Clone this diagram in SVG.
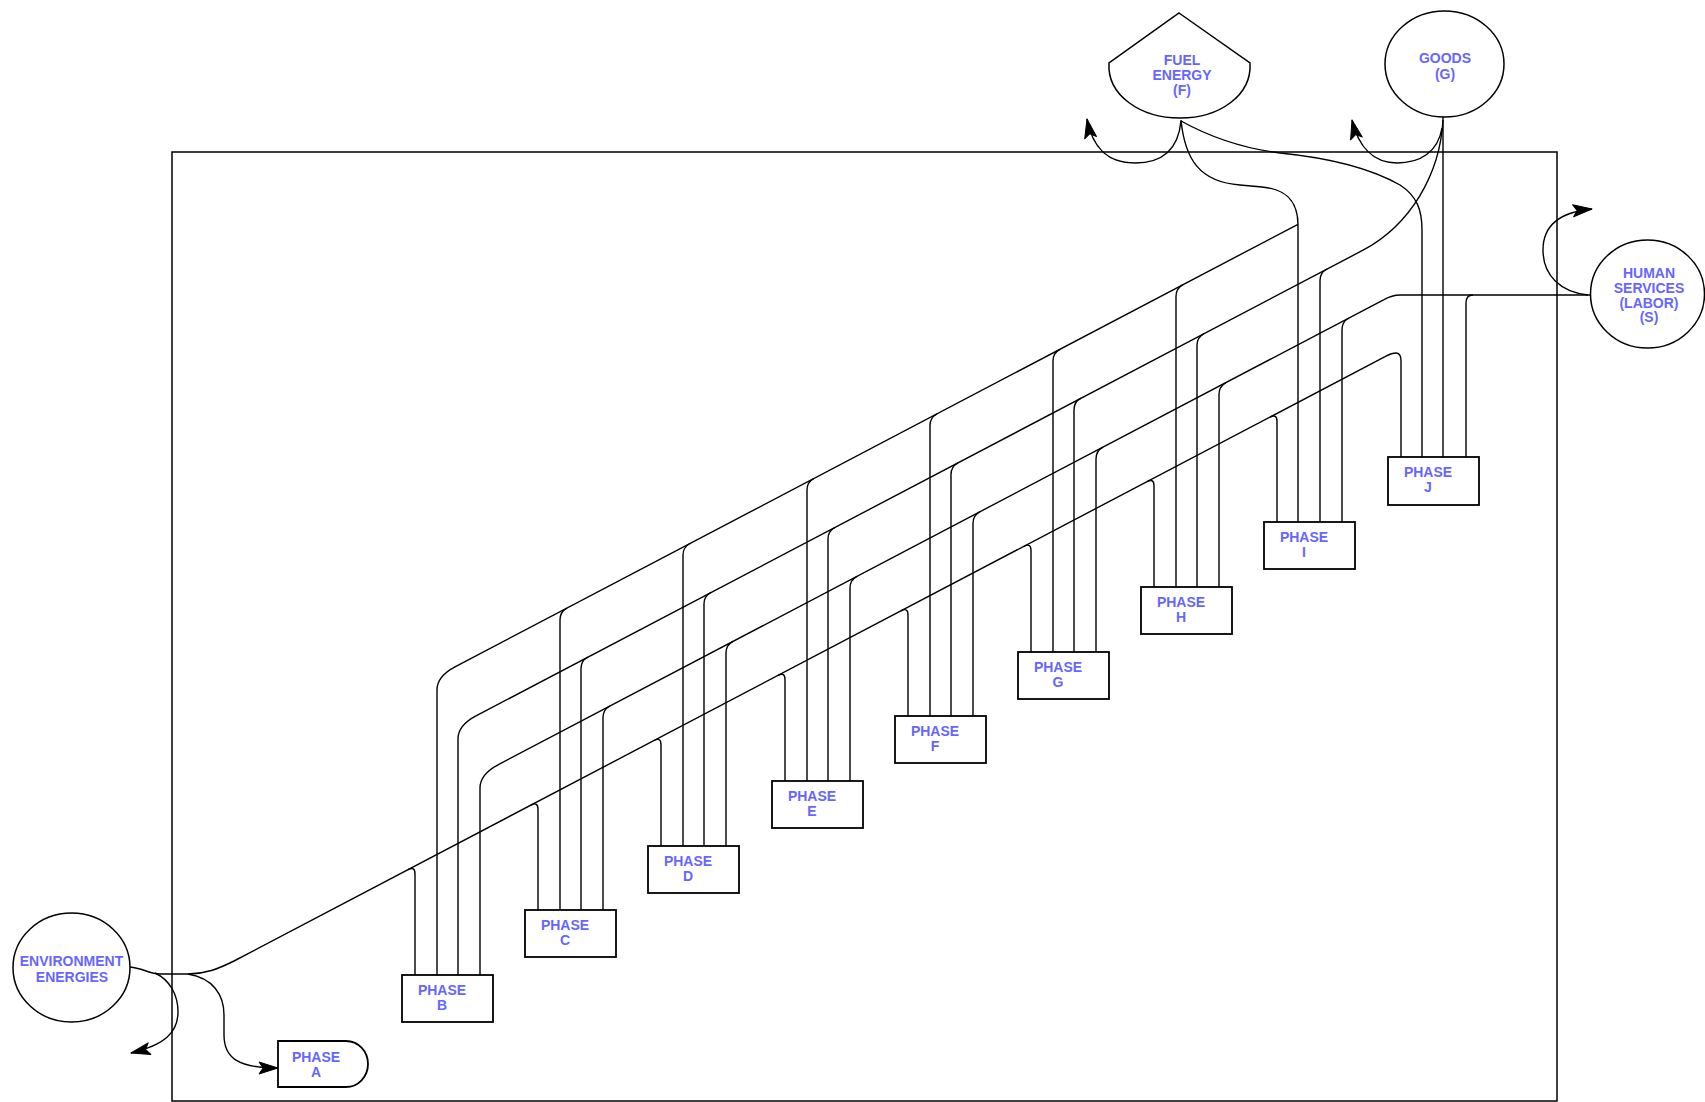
<svg xmlns="http://www.w3.org/2000/svg" width="1705" height="1102" viewBox="0 0 1705 1102">
<defs>
<style>
.ln{fill:none;stroke:#000;stroke-width:1.4}
.bx{fill:#fff;stroke:#000;stroke-width:1.8}
.nd{fill:#fff;stroke:#000;stroke-width:1.5}
.tx{font-family:"Liberation Sans",Arial,sans-serif;font-weight:bold;font-size:14px;fill:#6666ff;text-anchor:middle}
</style>
<marker id="ar" markerUnits="userSpaceOnUse" markerWidth="22" markerHeight="14" viewBox="-21 -7 22 14" refX="0" refY="0" orient="auto">
<path d="M0,0 L-19,-6 L-15,0 L-19,6 Z" fill="#000" stroke="#000" stroke-width="1" stroke-linejoin="round"/>
</marker>
</defs>
<rect width="1705" height="1102" fill="#fff"/>
<rect x="172" y="152" width="1385" height="949" fill="none" stroke="#000" stroke-width="1.5"/>
<g id="connectors" class="ln">
<path d="M130,967 C142,968 150,974 160,974 L188,974 C205,974 218,969 234,961 L1386,356.2 Q1392,353 1396,353 Q1401,353 1401,361 L1401,457"/>
<path d="M1298,224.3 L455,666.9 Q437,676.4 437,690 L437,975"/>
<path d="M1181,120 C1185,160 1200,182 1240,185 L1262,187 C1285,189 1298,200 1298,225 L1298,522"/>
<path d="M1181,121 C1210,137 1240,148 1280,153 C1330,158 1370,168 1400,185 C1417,196 1422,210 1422,230 L1422,457"/>
<path d="M1443,120 C1440,175 1410,225 1363,250.2 L476,715.9 Q458,725.3 458,739 L458,975"/>
<path d="M1443,117 L1443,457"/>
<path d="M1590,295 L1400,295 Q1392,295 1384,299.6 L498,764.8 Q480,774.3 480,788 L480,975"/>
<path d="M408,869.7 Q415,866 415,874 L415,975"/>
<path d="M531,805.1 Q538,801.4 538,809.4 L538,910"/>
<path d="M654,740.5 Q661,736.8 661,744.8 L661,846"/>
<path d="M778,675.4 Q785,671.7 785,679.7 L785,781"/>
<path d="M901,610.8 Q908,607.1 908,615.1 L908,716"/>
<path d="M1024,546.3 Q1031,542.6 1031,550.6 L1031,652"/>
<path d="M1147,481.7 Q1154,478 1154,486 L1154,587"/>
<path d="M1270,417.1 Q1277,413.4 1277,421.4 L1277,522"/>
<path d="M567,608.1 Q560,611.8 560,619.8 L560,910"/>
<path d="M690,543.5 Q683,547.2 683,555.2 L683,846"/>
<path d="M814,478.4 Q807,482.1 807,490.1 L807,781"/>
<path d="M937,413.8 Q930,417.5 930,425.5 L930,716"/>
<path d="M1060,349.3 Q1053,353 1053,361 L1053,652"/>
<path d="M1183,284.7 Q1176,288.4 1176,296.4 L1176,587"/>
<path d="M588,657 Q581,660.7 581,668.7 L581,910"/>
<path d="M711,592.4 Q704,596.1 704,604.1 L704,846"/>
<path d="M835,527.3 Q828,531 828,539 L828,781"/>
<path d="M958,462.8 Q951,466.5 951,474.5 L951,716"/>
<path d="M1081,398.2 Q1074,401.9 1074,409.9 L1074,652"/>
<path d="M1204,333.6 Q1197,337.3 1197,345.3 L1197,587"/>
<path d="M1327,269 Q1320,272.7 1320,280.7 L1320,522"/>
<path d="M610,706 Q603,709.7 603,717.7 L603,910"/>
<path d="M733,641.4 Q726,645.1 726,653.1 L726,846"/>
<path d="M857,576.3 Q850,580 850,588 L850,781"/>
<path d="M980,511.7 Q973,515.4 973,523.4 L973,716"/>
<path d="M1103,447.1 Q1096,450.8 1096,458.8 L1096,652"/>
<path d="M1226,382.6 Q1219,386.3 1219,394.3 L1219,587"/>
<path d="M1349,318 Q1342,321.7 1342,329.7 L1342,522"/>
<path d="M1473,295 Q1466,295 1466,303 L1466,457"/>
<path d="M1181,121 C1178,152 1160,163 1135,163 C1105,163 1092,145 1087,119" marker-end="url(#ar)"/>
<path d="M1442,128 C1438,152 1420,163 1397,163 C1372,163 1358,145 1352,120" marker-end="url(#ar)"/>
<path d="M1588,295 C1560,292 1543,275 1543,250 C1543,225 1560,212 1592,209" marker-end="url(#ar)"/>
<path d="M155,973 C170,980 178,995 178,1012 C178,1032 165,1045 131,1053" marker-end="url(#ar)"/>
<path d="M188,974 C213,978 224,995 224,1015 L224,1035 C224,1058 238,1068 278,1068" marker-end="url(#ar)"/>
</g>
<g id="env"><ellipse class="nd" cx="71.5" cy="967.5" rx="58.5" ry="54.5"/><text class="tx" x="71.5" y="966">ENVIRONMENT</text><text class="tx" x="72" y="982">ENERGIES</text></g>
<g id="fuel"><path class="nd" d="M1179,13 L1250,63 C1252,95 1220,118 1180,118 C1140,118 1107,95 1109,63 Z"/><text class="tx" x="1182" y="65">FUEL</text><text class="tx" x="1182" y="80">ENERGY</text><text class="tx" x="1182" y="95">(F)</text></g>
<g id="goods"><ellipse class="nd" cx="1444.5" cy="64" rx="59.5" ry="53"/><text class="tx" x="1445" y="63">GOODS</text><text class="tx" x="1445" y="79">(G)</text></g>
<g id="services"><ellipse class="nd" cx="1647.5" cy="294" rx="57" ry="54"/><text class="tx" x="1649" y="278">HUMAN</text><text class="tx" x="1649" y="293">SERVICES</text><text class="tx" x="1649" y="308">(LABOR)</text><text class="tx" x="1649" y="322">(S)</text></g>
<g id="phaseA"><path class="bx" d="M278,1041 L346,1041 A22,23 0 0 1 346,1087 L278,1087 Z"/><text class="tx" x="316" y="1062">PHASE</text><text class="tx" x="316" y="1077">A</text></g>
<g id="phaseB"><rect class="bx" x="402" y="975" width="91" height="47"/><text class="tx" x="442" y="995">PHASE</text><text class="tx" x="442" y="1010">B</text></g>
<g id="phaseC"><rect class="bx" x="525" y="910" width="91" height="47"/><text class="tx" x="565" y="930">PHASE</text><text class="tx" x="565" y="945">C</text></g>
<g id="phaseD"><rect class="bx" x="648" y="846" width="91" height="47"/><text class="tx" x="688" y="866">PHASE</text><text class="tx" x="688" y="881">D</text></g>
<g id="phaseE"><rect class="bx" x="772" y="781" width="91" height="47"/><text class="tx" x="812" y="801">PHASE</text><text class="tx" x="812" y="816">E</text></g>
<g id="phaseF"><rect class="bx" x="895" y="716" width="91" height="47"/><text class="tx" x="935" y="736">PHASE</text><text class="tx" x="935" y="751">F</text></g>
<g id="phaseG"><rect class="bx" x="1018" y="652" width="91" height="47"/><text class="tx" x="1058" y="672">PHASE</text><text class="tx" x="1058" y="687">G</text></g>
<g id="phaseH"><rect class="bx" x="1141" y="587" width="91" height="47"/><text class="tx" x="1181" y="607">PHASE</text><text class="tx" x="1181" y="622">H</text></g>
<g id="phaseI"><rect class="bx" x="1264" y="522" width="91" height="47"/><text class="tx" x="1304" y="542">PHASE</text><text class="tx" x="1304" y="557">I</text></g>
<g id="phaseJ"><rect class="bx" x="1388" y="457" width="91" height="48"/><text class="tx" x="1428" y="477">PHASE</text><text class="tx" x="1428" y="492">J</text></g>
</svg>
